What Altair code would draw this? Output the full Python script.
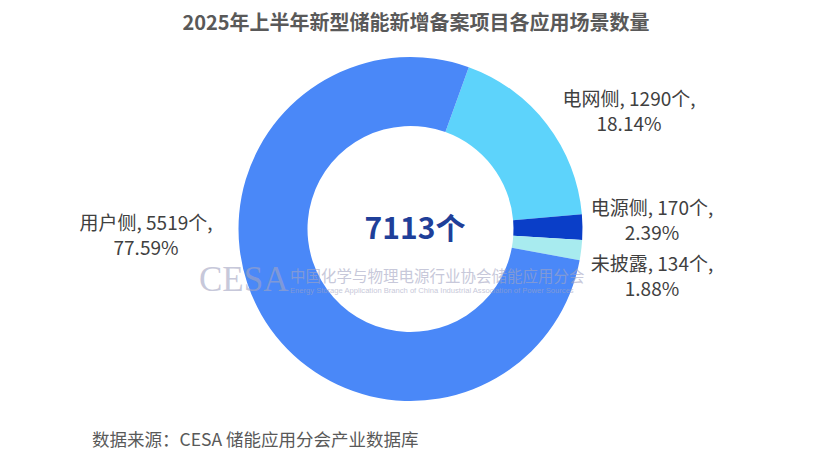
import math
import altair as alt
import pandas as pd

# ---- data ----
categories = ["电网侧", "电源侧", "未披露", "用户侧"]
counts = [1290, 170, 134, 5519]
shares = ["18.14%", "2.39%", "1.88%", "77.59%"]
colors = ["#5DD3FB", "#0A3EC8", "#A8EBEF", "#4A88F8"]
total_label = "7113个"
title_text = "2025年上半年新型储能新增备案项目各应用场景数量"
source_text = "数据来源：CESA 储能应用分会产业数据库"
wm_logo = "CESA"
wm_cn = "中国化学与物理电源行业协会储能应用分会"
wm_en = "Energy Storage Application Branch of China Industrial Association of Power Sources"

df = pd.DataFrame({"cat": categories, "count": counts, "share": shares, "idx": list(range(len(categories)))})
df["label"] = df["cat"] + ", " + df["count"].astype(str) + "个,\n" + df["share"]

# ---- layout (view coordinates) ----
W, H = 814, 452
cx, cy = 402.5, 221
start = math.radians(19.8)
label_pos = {"电网侧": (621, 91.5), "电源侧": (644, 200.5), "未披露": (644, 256.5), "用户侧": (138, 215.5)}
FONT = "Noto Sans CJK SC"

arc = alt.Chart(df).mark_arc(radius=172, radius2=103).encode(
    theta=alt.Theta("count:Q", stack=True, scale=alt.Scale(range=[start, start + 2 * math.pi])),
    order=alt.Order("idx:Q"),
    color=alt.Color("cat:N", scale=alt.Scale(domain=categories, range=colors), legend=None),
    x=alt.value(cx),
    y=alt.value(cy),
)

layers = [arc]

# watermark
wm_color = "#a3a5c2"
layers.append(alt.Chart(pd.DataFrame({"t": [wm_logo]})).mark_text(
    font="Liberation Serif", fontSize=35, align="left", baseline="middle", color=wm_color, opacity=0.6
).encode(text="t:N", x=alt.value(191), y=alt.value(272)))
layers.append(alt.Chart(pd.DataFrame({"t": [wm_cn]})).mark_text(
    font=FONT, fontSize=15.5, align="left", baseline="middle", color=wm_color, opacity=0.6
).encode(text="t:N", x=alt.value(282), y=alt.value(269)))
layers.append(alt.Chart(pd.DataFrame({"t": [wm_en]})).mark_text(
    font="Liberation Sans", fontSize=7.6, align="left", baseline="middle", color=wm_color, opacity=0.6
).encode(text="t:N", x=alt.value(282), y=alt.value(283)))

# slice labels
for cat in categories:
    px, py = label_pos[cat]
    layers.append(alt.Chart(df).transform_filter(alt.datum.cat == cat).mark_text(
        font=FONT, fontSize=19, align="center", baseline="middle", lineBreak="\n", lineHeight=25, color="#404040"
    ).encode(text="label:N", x=alt.value(px), y=alt.value(py)))

# center total
layers.append(alt.Chart(pd.DataFrame({"t": [total_label]})).mark_text(
    font=FONT, fontSize=30, fontWeight="bold", align="center", baseline="middle", color="#1F3F99"
).encode(text="t:N", x=alt.value(407), y=alt.value(222)))

# title
layers.append(alt.Chart(pd.DataFrame({"t": [title_text]})).mark_text(
    font=FONT, fontSize=20, fontWeight="bold", align="center", baseline="middle", color="#595959"
).encode(text="t:N", x=alt.value(408), y=alt.value(16)))

# source
layers.append(alt.Chart(pd.DataFrame({"t": [source_text]})).mark_text(
    font=FONT, fontSize=17.5, align="left", baseline="middle", color="#595959"
).encode(text="t:N", x=alt.value(84), y=alt.value(433)))

chart = alt.layer(*layers).properties(
    width=W, height=H, padding=0,
    autosize=alt.AutoSizeParams(type="fit", contains="padding"),
).configure_view(stroke=None)

chart.save("out.html", embed_options={"renderer": "svg", "actions": False})
